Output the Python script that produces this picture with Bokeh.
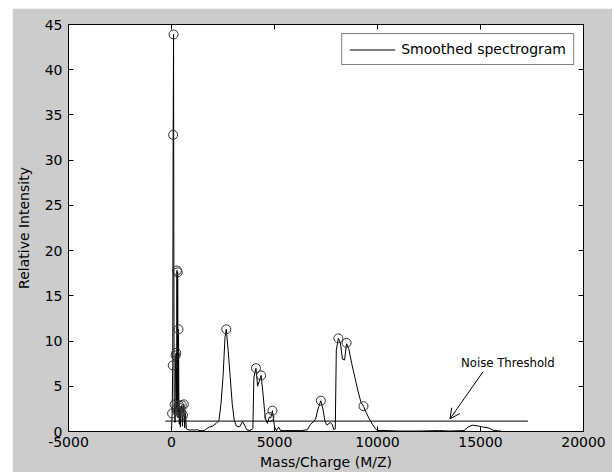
from bokeh.plotting import figure
from bokeh.models import Range1d, LinearAxis, FixedTicker, Arrow, OpenHead, Label, Spacer
from bokeh.layouts import row, column
from bokeh.embed import file_html
from bokeh.resources import INLINE

# Smoothed spectrogram (m/z, relative intensity)
mz = [0, 30, 60, 80, 100, 115, 130, 150, 170, 200, 230, 250, 265, 280, 300, 320, 340,
      360, 380, 400, 430, 460, 500, 530, 560, 600, 640, 680, 720, 800, 900, 1000, 1100,
      1200, 1300, 1400, 1500, 1600, 1700, 1850, 2000, 2170, 2300, 2400, 2500, 2600, 2660,
      2750, 2850, 2950, 3050, 3150, 3300, 3450, 3550, 3650, 3800, 3950, 4000, 4100, 4180,
      4250, 4350, 4450, 4550, 4650, 4750, 4820, 4900, 5000, 5100, 5200, 5300, 5500, 6000,
      6300, 6600, 6750, 6900, 7000, 7100, 7250, 7350, 7450, 7550, 7700, 7800, 7880, 7950,
      8000, 8100, 8200, 8300, 8400, 8500, 8600, 8750, 8900, 9050, 9200, 9320, 9450, 9600,
      9750, 9900, 10000, 10500, 11000, 12000, 13000, 13500, 14200, 14400, 14600, 14900,
      15100, 15400, 15650, 16000]
intensity = [0.2, 2.0, 7.3, 32.8, 43.9, 20.0, 2.0, 3.0, 1.0, 8.4, 8.7, 2.5, 17.8, 2.2,
             17.6, 1.5, 11.3, 2.9, 0.8, 2.6, 0.5, 2.2, 2.9, 0.6, 1.8, 3.0, 0.4, 2.0, 0.3,
             0.2, 0.15, 0.2, 0.15, 0.2, 0.15, 0.1, 0.1, 0.1, 0.3, 0.5, 0.6, 0.9, 1.2, 3.0,
             6.0, 10.5, 11.3, 9.0, 6.0, 3.0, 1.2, 0.6, 0.5, 1.1, 0.7, 0.2, 0.1, 0.3, 6.0,
             7.0, 5.0, 5.5, 6.2, 4.0, 1.5, 0.9, 1.6, 1.5, 2.3, 0.5, 0.1, 0.5, 0.1, 0.1, 0.1,
             0.1, 0.2, 0.8, 1.1, 1.4, 2.4, 3.4, 2.5, 1.1, 0.7, 1.0, 0.8, 0.2, 0.3, 9.0, 10.3,
             9.8, 8.0, 7.9, 9.7, 9.2, 7.5, 6.0, 4.5, 3.2, 2.8, 2.1, 1.4, 0.8, 0.3, 0.1, 0.1,
             0.05, 0.05, 0.1, 0.05, 0.1, 0.5, 0.7, 0.6, 0.5, 0.4, 0.1, 0.05]

# Detected peaks (circles)
peak_mz = [100, 80, 265, 300, 340, 230, 200, 60, 150, 250, 360, 400, 500, 600, 30,
           280, 460, 560, 2660, 4100, 4350, 4750, 4900, 7250, 8100, 8500, 9320]
peak_int = [43.9, 32.8, 17.8, 17.6, 11.3, 8.7, 8.4, 7.3, 3.0, 2.5, 2.9, 2.6, 2.9, 3.0,
            2.0, 2.2, 2.2, 1.8, 11.3, 7.0, 6.2, 1.6, 2.3, 3.4, 10.3, 9.8, 2.8]

# Noise threshold
threshold_mz = [-300, 17300]
threshold_level = [1.15, 1.15]
arrow_from = (15120, 6.6)
arrow_to = (13520, 1.4)
note_pos = (16330, 7.6)

x_ticks = [-5000, 0, 5000, 10000, 15000, 20000]
x_tick_labels = ["-5000", "0", "5000", "10000", "15000", "20000"]
y_ticks = [0, 5, 10, 15, 20, 25, 30, 35, 40, 45]

FONT = "DejaVu Sans"
FS = "14px"

p = figure(width=600, height=464, x_range=Range1d(-5000, 20000), y_range=Range1d(0, 45),
           output_backend="svg", toolbar_location=None,
           min_border_left=54, min_border_right=29, min_border_top=16, min_border_bottom=40,
           background_fill_color="white", border_fill_color="#cccccc",
           outline_line_color="black", outline_line_width=1)
p.grid.visible = False

for ax, ticks in ((p.xaxis[0], x_ticks), (p.yaxis[0], y_ticks)):
    ax.ticker = FixedTicker(ticks=ticks)
    ax.major_tick_in = 5
    ax.major_tick_out = 0
    ax.minor_tick_in = 0
    ax.minor_tick_out = 0
    ax.axis_line_color = "black"
    ax.major_tick_line_color = "black"
    ax.major_label_text_font = FONT
    ax.major_label_text_font_size = FS
    ax.major_label_text_color = "black"
    ax.axis_label_text_font = FONT
    ax.axis_label_text_font_size = FS
    ax.axis_label_text_font_style = "normal"
    ax.axis_label_text_color = "black"

p.xaxis.major_label_overrides = dict(zip(x_ticks, x_tick_labels))
p.xaxis.axis_label = "Mass/Charge (M/Z)"
p.yaxis.axis_label = "Relative Intensity"
p.xaxis.major_label_standoff = 5
p.xaxis.axis_label_standoff = 4
p.yaxis.major_label_standoff = 6
p.yaxis.axis_label_standoff = 10

top = LinearAxis(ticker=FixedTicker(ticks=x_ticks), major_tick_in=5, major_tick_out=0,
                 minor_tick_in=0, minor_tick_out=0, axis_line_color=None,
                 major_label_overrides={t: "" for t in x_ticks}, major_label_standoff=0)
right = LinearAxis(ticker=FixedTicker(ticks=y_ticks), major_tick_in=5, major_tick_out=0,
                   minor_tick_in=0, minor_tick_out=0, axis_line_color=None,
                   major_label_overrides={t: "" for t in y_ticks}, major_label_standoff=0)
p.add_layout(top, "above")
p.add_layout(right, "right")

p.line(mz, intensity, line_color="black", line_width=1, legend_label="Smoothed spectrogram")
p.scatter(peak_mz, peak_int, marker="circle", size=9, fill_color=None,
          line_color="#303030", line_width=1)
p.line(threshold_mz, threshold_level, line_color="black", line_width=1)

p.add_layout(Arrow(end=OpenHead(size=10, line_width=1, line_color="black"),
                   x_start=arrow_from[0], y_start=arrow_from[1],
                   x_end=arrow_to[0], y_end=arrow_to[1],
                   line_color="black", line_width=1))
p.add_layout(Label(x=note_pos[0], y=note_pos[1], text="Noise Threshold",
                   text_align="center", text_baseline="middle",
                   text_font="DejaVu Sans Condensed, Liberation Sans Narrow, sans-serif",
                   text_font_size="13px", text_color="black"))

lg = p.legend[0]
lg.location = "top_right"
lg.margin = 9
lg.padding = 7
lg.spacing = 0
lg.glyph_width = 46
lg.glyph_height = 15
lg.label_height = 15
lg.label_standoff = 6
lg.label_text_font = FONT
lg.label_text_font_size = FS
lg.label_text_color = "black"
lg.border_line_color = "black"
lg.border_line_width = 1
lg.background_fill_color = "white"
lg.background_fill_alpha = 1

layout = column(Spacer(height=8), row(Spacer(width=12), p))
open("out.html", "w").write(file_html(layout, INLINE))
